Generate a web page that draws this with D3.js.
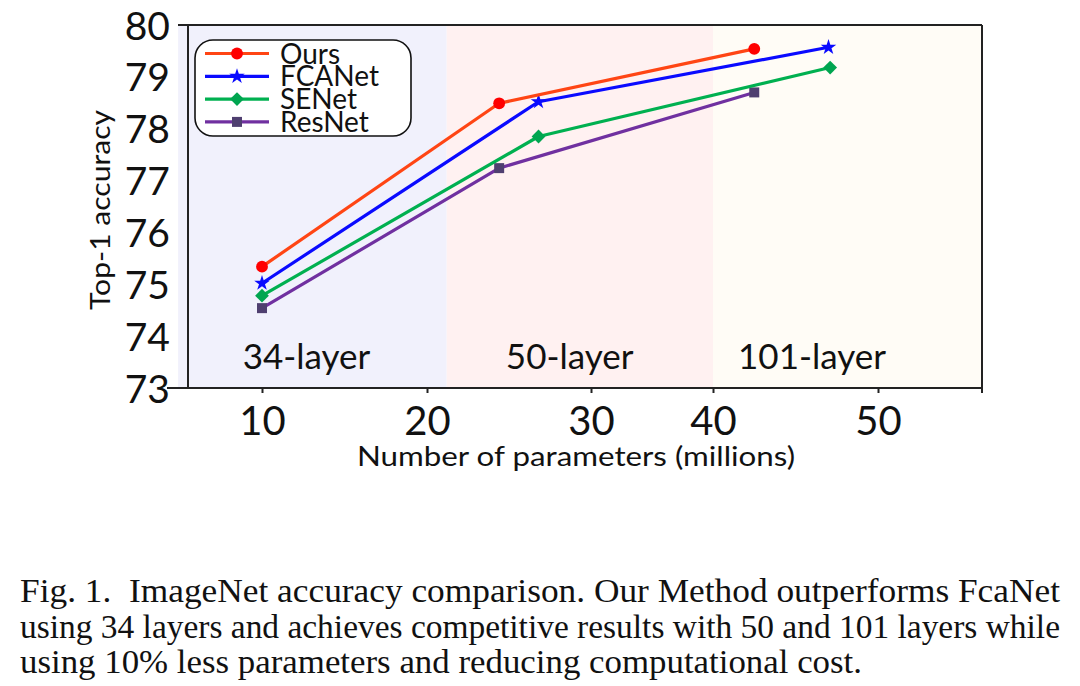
<!DOCTYPE html>
<html>
<head>
<meta charset="utf-8">
<script src="https://cdn.jsdelivr.net/npm/d3@7"></script>
<style>
  html, body { margin: 0; padding: 0; background: #ffffff; }
  svg { display: block; }
</style>
</head>
<body>
<svg id="chart" width="1080" height="686"></svg>
<script>
// ---------------- data ----------------
const seriesNames = ["Ours", "FCANet", "SENet", "ResNet"];
const oursX   = [10, 24.4, 42.5];
const oursY   = [75.34, 78.49, 79.54];
const fcaX    = [10, 26.8, 47.0];
const fcaY    = [75.02, 78.52, 79.57];
const seX     = [10, 26.8, 47.1];
const seY     = [74.78, 77.85, 79.18];
const resX    = [10, 24.4, 42.5];
const resY    = [74.54, 77.24, 78.70];

const xTicks = [10, 20, 30, 40, 50];
const xTickLabels = ["10", "20", "30", "40", "50"];
const yTicks = [73, 74, 75, 76, 77, 78, 79, 80];
const yTickLabels = ["73", "74", "75", "76", "77", "78", "79", "80"];

const regionNames = ["34-layer", "50-layer", "101-layer"];
const regionStart = [4.9, 21.2, 40];
const regionEnd   = [21.2, 40, 56.3];
const regionLabelX = [12.7, 28.7, 46.0];

const xTitle = "Number of parameters (millions)";
const yTitle = "Top-1 accuracy";
const captionLines = [
  "Fig. 1.  ImageNet accuracy comparison. Our Method outperforms FcaNet",
  "using 34 layers and achieves competitive results with 50 and 101 layers while",
  "using 10% less parameters and reducing computational cost."
];

// ---------------- styles ----------------
const lineColors   = ["#ff4514", "#0a0aff", "#00b050", "#7030a0"];
const markerColors = ["#ff0000", "#0a0aff", "#00a550", "#4f3f70"];
const markerTypes  = ["circle", "star", "diamond", "square"];
const regionColors = ["#f1f1fc", "#fff1f1", "#fffcf6"];
const sansFont = "Lato, 'Open Sans', sans-serif";
const serifFont = "Liberation Serif, serif";

const svg = d3.select("#chart");

// piecewise (polylinear) x scale as in the reference axis
const x = d3.scaleLinear()
  .domain([5.5, 10, 20, 30, 40, 50, 56.3])
  .range([188, 262, 427, 591, 713, 878, 982]);
const y = d3.scaleLinear().domain([73, 80]).range([388, 25]);

const [xL, xR] = [x(5.5), x(56.3)];
const [yB, yT] = [y(73), y(80)];

// region backgrounds
const g = svg.append("g");
g.selectAll("rect.region").data(regionNames).join("rect")
  .attr("class", "region")
  .attr("x", (d, i) => x(regionStart[i]))
  .attr("width", (d, i) => x(regionEnd[i]) - x(regionStart[i]))
  .attr("y", yT).attr("height", yB - yT)
  .attr("fill", (d, i) => regionColors[i]);

// region labels
g.selectAll("text.rlab").data(regionNames).join("text")
  .attr("class", "rlab")
  .attr("x", (d, i) => x(regionLabelX[i]))
  .attr("y", 369)
  .attr("text-anchor", "middle")
  .attr("font-family", sansFont)
  .attr("font-size", 35)
  .attr("fill", "#111")
  .text(d => d);

// frame
const frame = svg.append("g").attr("stroke", "#222").attr("stroke-width", 2).attr("fill", "none");
frame.append("line").attr("x1", 178).attr("x2", xR).attr("y1", yT).attr("y2", yT);
frame.append("line").attr("x1", 167).attr("x2", xR).attr("y1", yB).attr("y2", yB);
frame.append("line").attr("x1", xL).attr("x2", xL).attr("y1", yT).attr("y2", yB);
frame.append("line").attr("x1", xR).attr("x2", xR).attr("y1", yT).attr("y2", yB + 5);

// x axis
const xAxis = d3.axisBottom(x).tickValues(xTicks)
  .tickFormat((d, i) => xTickLabels[i]).tickSize(5).tickSizeOuter(0).tickPadding(12);
const xg = svg.append("g").attr("transform", `translate(0,${yB})`).call(xAxis);
xg.select(".domain").remove();
xg.selectAll(".tick line").attr("stroke", "#222").attr("stroke-width", 2);
xg.selectAll(".tick text")
  .attr("font-family", sansFont).attr("font-size", 40).attr("fill", "#111")
  .attr("dy", "0.75em");

// y axis labels (no visible inner ticks)
const yAxis = d3.axisLeft(y).tickValues(yTicks)
  .tickFormat((d, i) => yTickLabels[i]).tickSize(0).tickPadding(18);
const yg = svg.append("g").attr("transform", `translate(${xL},0)`).call(yAxis);
yg.select(".domain").remove();
yg.selectAll(".tick text")
  .attr("font-family", sansFont).attr("font-size", 39).attr("fill", "#111")
  .attr("dy", "0.36em");

// axis titles
svg.append("text")
  .attr("x", 576).attr("y", 466)
  .attr("text-anchor", "middle")
  .attr("font-family", sansFont).attr("font-size", 27).attr("fill", "#111")
  .attr("textLength", 438).attr("lengthAdjust", "spacingAndGlyphs")
  .text(xTitle);
svg.append("text")
  .attr("transform", "translate(110,210) rotate(-90)")
  .attr("text-anchor", "middle")
  .attr("font-family", sansFont).attr("font-size", 26).attr("fill", "#111")
  .attr("textLength", 200).attr("lengthAdjust", "spacingAndGlyphs")
  .text(yTitle);

// series
const series = [
  { name: seriesNames[0], xs: oursX, ys: oursY },
  { name: seriesNames[1], xs: fcaX, ys: fcaY },
  { name: seriesNames[2], xs: seX, ys: seY },
  { name: seriesNames[3], xs: resX, ys: resY }
];
const lineGen = d3.line().x(d => x(d[0])).y(d => y(d[1]));

function symbolPath(type) {
  if (type === "circle") return d3.symbol(d3.symbolCircle, 110)();
  if (type === "star") return d3.symbol(d3.symbolStar, 75)();
  if (type === "diamond") return d3.symbol(d3.symbolSquare, 95)();
  return d3.symbol(d3.symbolSquare, 100)();
}
function drawMarker(sel, i, cx, cy) {
  const t = markerTypes[i];
  sel.append("path")
    .attr("d", symbolPath(t))
    .attr("transform", `translate(${cx},${cy})` + (t === "diamond" ? " rotate(45)" : ""))
    .attr("fill", markerColors[i]);
}

const plot = svg.append("g");
series.slice().reverse().forEach((s) => {
  const i = seriesNames.indexOf(s.name);
  const pts = s.xs.map((v, k) => [v, s.ys[k]]);
  plot.append("path").datum(pts)
    .attr("d", lineGen)
    .attr("fill", "none")
    .attr("stroke", lineColors[i])
    .attr("stroke-width", 3.2)
    .attr("stroke-linejoin", "round");
  pts.forEach(p => drawMarker(plot, i, x(p[0]), y(p[1])));
});

// legend
const leg = svg.append("g");
leg.append("rect")
  .attr("x", 195).attr("y", 40).attr("width", 216).attr("height", 96)
  .attr("rx", 18).attr("ry", 18)
  .attr("fill", "#ffffff").attr("stroke", "#111").attr("stroke-width", 1.6);
seriesNames.forEach((name, i) => {
  const ly = 53.5 + i * 22.8;
  leg.append("line").attr("x1", 205).attr("x2", 269).attr("y1", ly).attr("y2", ly)
    .attr("stroke", lineColors[i]).attr("stroke-width", 3.2);
  drawMarker(leg, i, 237, ly);
  leg.append("text")
    .attr("x", 280).attr("y", ly).attr("dy", "0.36em")
    .attr("font-family", sansFont).attr("font-size", 28).attr("fill", "#111")
    .text(name);
});

// caption
const capY = [602, 638, 673];
const capLen = [1040, 1040, 842];
captionLines.forEach((line, i) => {
  svg.append("text")
    .attr("x", 20).attr("y", capY[i])
    .attr("font-family", serifFont)
    .attr("font-size", 33).attr("fill", "#111")
    .attr("xml:space", "preserve")
    .attr("textLength", capLen[i]).attr("lengthAdjust", "spacingAndGlyphs")
    .text(line);
});
</script>
</body>
</html>
